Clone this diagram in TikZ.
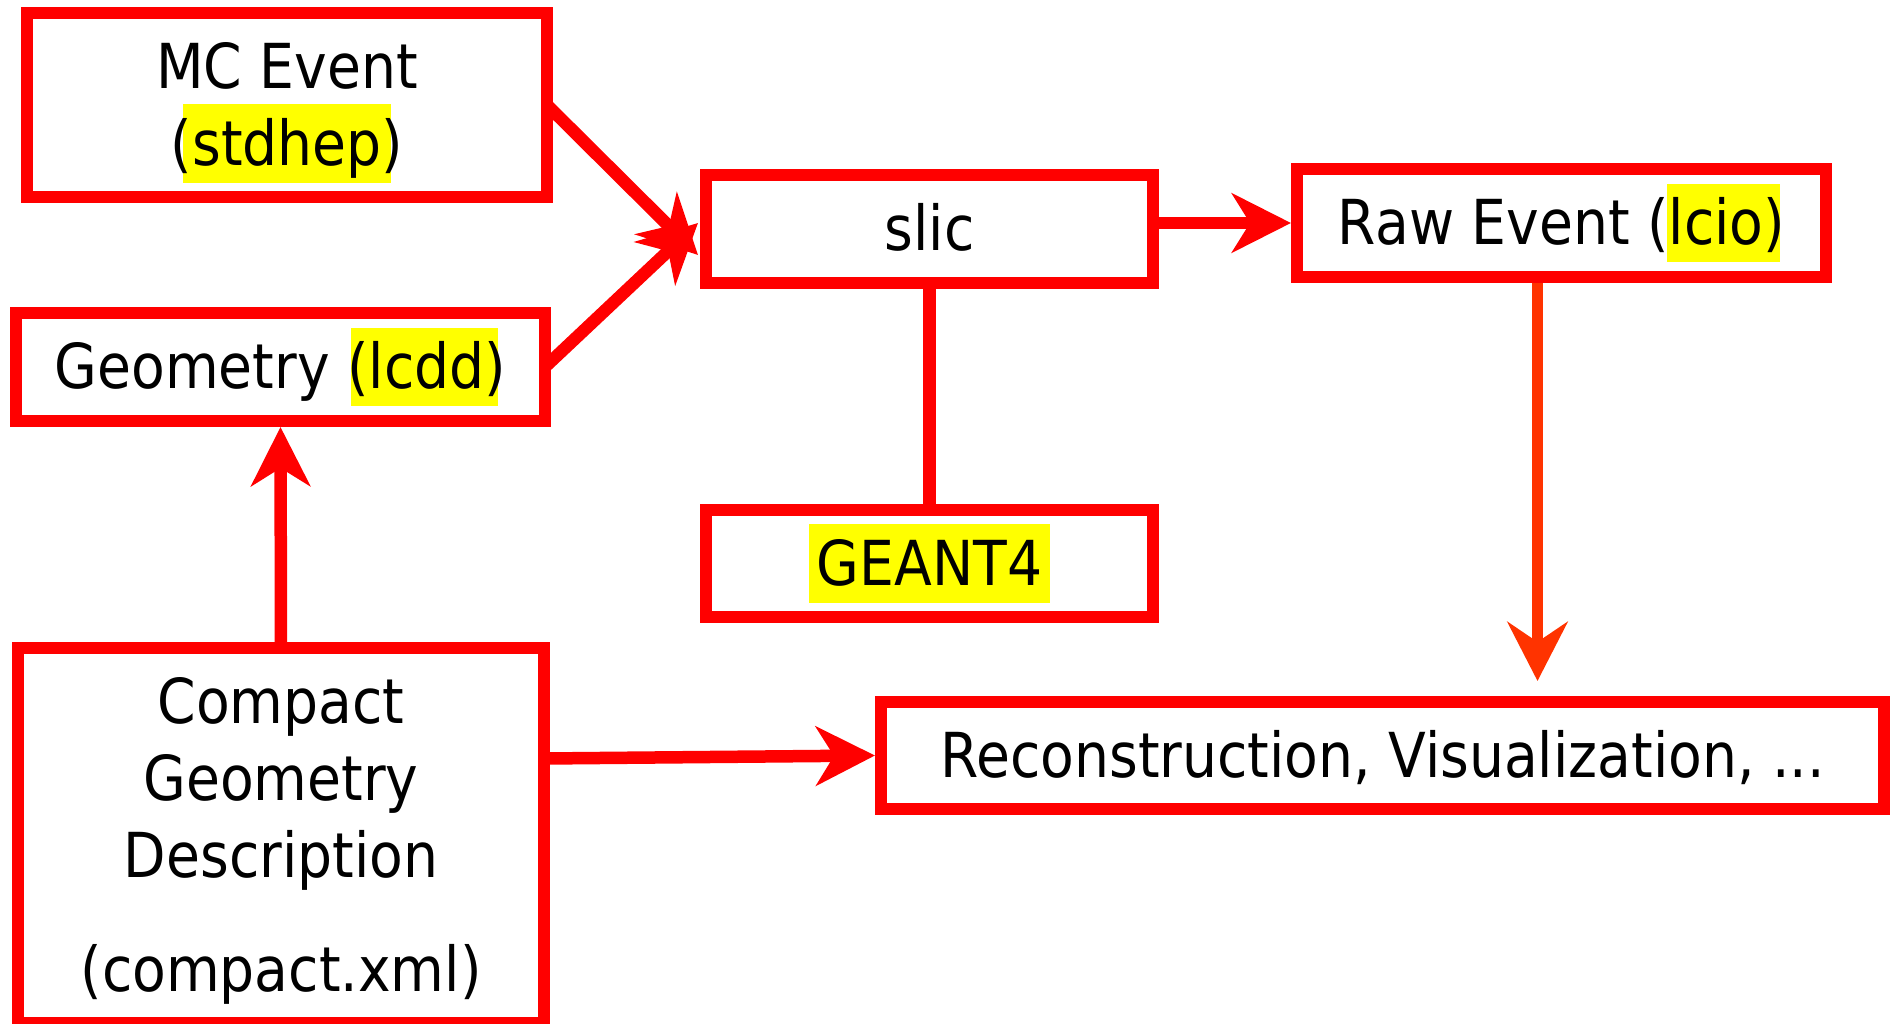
\documentclass[tikz,border=0pt]{standalone}
\usepackage{fontspec}
\setmainfont{DejaVu Sans}[FakeStretch=0.89]
\usetikzlibrary{arrows.meta,calc}
\definecolor{boxred}{HTML}{FF0000}
\definecolor{lineorange}{HTML}{FF3300}
\definecolor{hlyellow}{HTML}{FFFF00}
\setlength{\lineskiplimit}{-100pt}
\newcommand\hlstrut{\rule[-0.28em]{0pt}{1.26em}}
% \hltext[left pad]{before}{highlighted}{after}{right pad}
\newcommand\hltext[5][8pt]{\setbox0\hbox{#2}\setbox2\hbox{#3}%
  \rlap{\kern\wd0\kern-#1\textcolor{hlyellow}{\rule[-0.28em]{\dimexpr\wd2+#1+#5\relax}{1.26em}}}#2#3#4}
\tikzset{
  box/.style={draw=boxred, line width=12pt, inner sep=0pt, outer sep=0pt, align=center,
    font=\fontsize{62}{77}\selectfont},
  conn/.style={draw=boxred, line width=12.5pt},
  arr/.style={conn, -{Stealth[length=59pt,width=59pt,inset=18pt]}},
  arrorange/.style={draw=lineorange, line width=11.7pt, -{Stealth[length=59pt,width=60pt,inset=20pt]}},
}
\begin{document}
\begin{tikzpicture}[x=1pt,y=-1pt]
\useasboundingbox (0,0) rectangle (1892,1024);
\clip (0,0) rectangle (1892,1024);
\fill[white] (0,0) rectangle (1892,1024);

\node[box, minimum width=520pt, minimum height=184pt] (mc) at (287,105)
  {\hlstrut MC Event\\\hlstrut\hltext[9pt]{(}{stdhep}{)}{9pt}};
\node[box, minimum width=529pt, minimum height=108pt] (geo) at (280.5,367)
  {\hlstrut\hltext[18pt]{Geometry (}{lcdd}{)}{13pt}};
\node[box, minimum width=447pt, minimum height=108pt] (slic) at (929.5,229)
  {\hlstrut slic};
\node[box, minimum width=447pt, minimum height=107pt] (g4) at (929.5,563.5)
  {\hlstrut\hltext{}{GEANT4}{}{8pt}};
\node[box, minimum width=529pt, minimum height=108pt] (raw) at (1561.5,223)
  {\hlstrut\hltext[2pt]{Raw Event (}{lcio}{)}{16pt}};
\node[box, minimum width=526pt, minimum height=375pt] (cgd) at (281,835.5)
  {\hlstrut Compact\\\hlstrut Geometry\\\hlstrut Description\\[37pt]\hlstrut(compact.xml)};
\node[box, minimum width=1003pt, minimum height=107pt] (rec) at (1382.5,755.5)
  {\hlstrut Reconstruction, Visualization, ...};

\draw[arr] (mc.east) -- ($(slic.west)+(-8,26)$);
\draw[arr] (geo.east) -- ($(slic.west)+(-8,-6)$);
\draw[arr] (raw.west -| slic.east) -- ($(raw.west)+(-6,0)$);
\draw[conn] (slic.south) -- (g4.north);
\draw[arrorange] ($(raw.south)+(-24,6)$) -- ($(rec.north)+(155,-21)$);
\draw[arr] ($(cgd.east)+(0,-77)$) -- ($(rec.west)+(-6,0)$);
\draw[arr] (cgd.north) -- ($(geo.south)+(0,6)$);
\end{tikzpicture}
\end{document}
